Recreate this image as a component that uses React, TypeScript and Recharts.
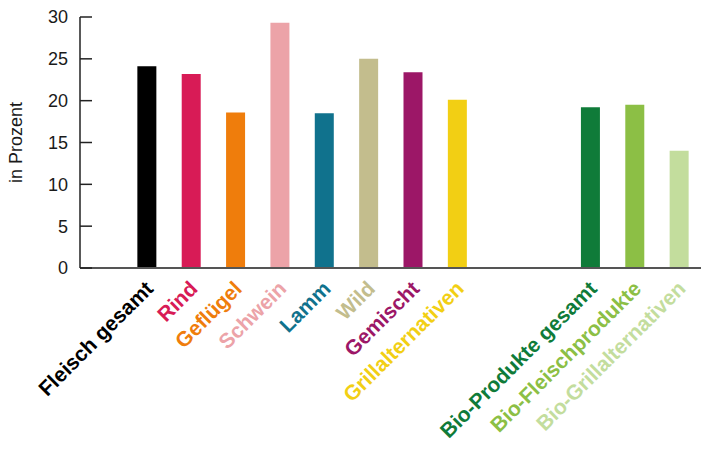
import React from 'react';
import { BarChart, Bar, XAxis, YAxis, Cell, Label } from 'recharts';

// empty strings are the blank slots before the first bar and between the two groups
const categories = ['', 'Fleisch gesamt', 'Rind', 'Geflügel', 'Schwein', 'Lamm', 'Wild', 'Gemischt', 'Grillalternativen', '', '', 'Bio-Produkte gesamt', 'Bio-Fleischprodukte', 'Bio-Grillalternativen'];
const values = [null, 24.1, 23.2, 18.6, 29.3, 18.5, 25.0, 23.4, 20.1, null, null, 19.2, 19.5, 14.0];
const colors = ['#ffffff', '#000000', '#d81b56', '#ef7d0c', '#eca3a8', '#10728d', '#c3bd8d', '#9c1767', '#f2cf14', '#ffffff', '#ffffff', '#0f7b39', '#8cbf45', '#c3dd9d'];
const yTicks = [0, 5, 10, 15, 20, 25, 30];

const FONT = '"Liberation Sans", Arial, sans-serif';

const data = categories.map((name, i) => ({ name, value: values[i], color: colors[i] }));

const XTick = (props: any) => {
  const { x, y, index } = props;
  const name = categories[index];
  if (!name) return null;
  return (
    <g transform={`translate(${x + 8},${y + 22})`}>
      <text
        x={0}
        y={0}
        transform="rotate(-45)"
        textAnchor="end"
        fill={colors[index]}
        fontFamily={FONT}
        fontWeight="bold"
        fontSize={21}
      >
        {name}
      </text>
    </g>
  );
};

export default function App() {
  return (
    <div style={{ position: 'absolute', left: 0, top: 0, background: '#fff' }}>
      <BarChart width={701} height={452} data={data} margin={{ top: 17, right: 0, left: 0, bottom: 0 }}>
        <XAxis
          dataKey="name"
          interval={0}
          height={184}
          tickLine={false}
          tickSize={0}
          tickMargin={0}
          tick={<XTick />}
          axisLine={{ stroke: '#555', strokeWidth: 2 }}
        />
        <YAxis
          domain={[0, 30]}
          ticks={yTicks}
          width={80}
          tickSize={-12}
          tickMargin={24}
          tick={{ fill: '#1a1a1a', fontSize: 18, fontFamily: FONT }}
          tickLine={{ stroke: '#222', strokeWidth: 1.5 }}
          axisLine={{ stroke: '#222', strokeWidth: 1.5 }}
        >
          <Label
            value="in Prozent"
            angle={-90}
            position="insideLeft"
            offset={16}
            style={{ textAnchor: 'middle', fill: '#1a1a1a', fontSize: 18, fontFamily: FONT }}
          />
        </YAxis>
        <Bar dataKey="value" barSize={19} isAnimationActive={false}>
          {data.map((d, i) => (
            <Cell key={`c-${i}`} fill={d.color} />
          ))}
        </Bar>
      </BarChart>
    </div>
  );
}
